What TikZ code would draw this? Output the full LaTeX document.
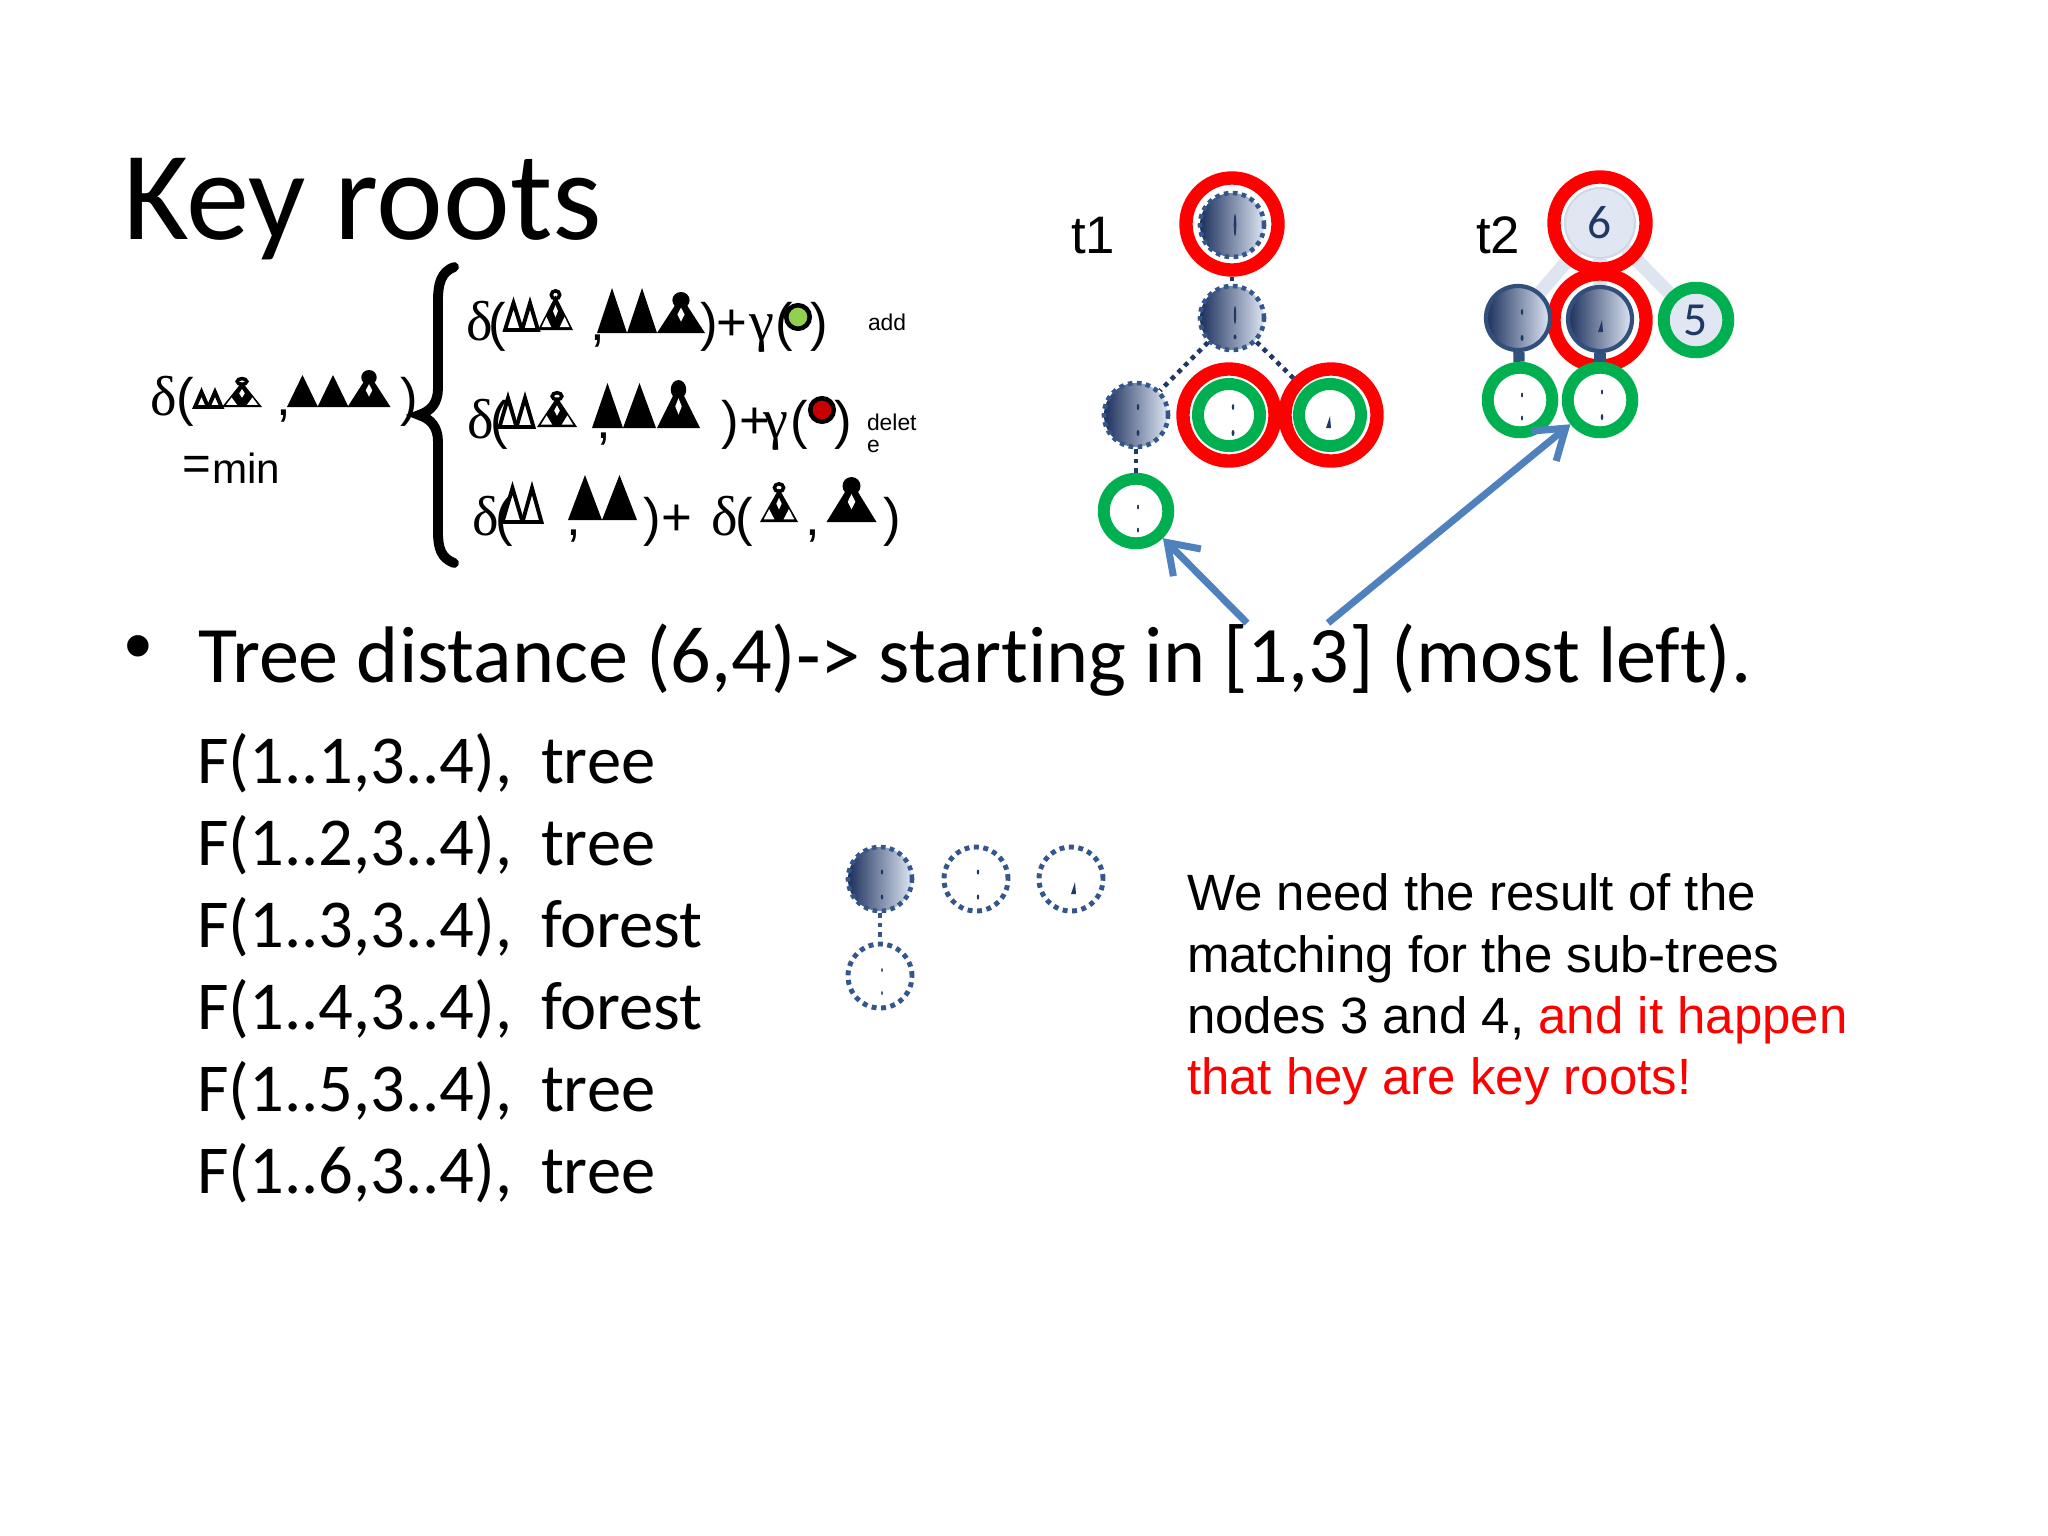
\documentclass[tikz,border=0pt]{standalone}
\usepackage{fontspec}
\setmainfont{Carlito}[Ligatures={TeX,NoCommon}]
\newfontfamily\arialf{Liberation Sans}
\newfontfamily\tnrf{Liberation Serif}
\usetikzlibrary{arrows.meta,backgrounds}
\newcommand{\kfs}[1]{\fontsize{#1}{#1}\selectfont}
\definecolor{kred}{RGB}{255,0,0}
\definecolor{kgreen}{RGB}{0,176,80}
\definecolor{knavy}{RGB}{31,56,100}
\definecolor{dotblue}{RGB}{52,86,138}
\definecolor{shdark}{RGB}{28,48,92}
\definecolor{shlight}{RGB}{222,230,244}
\definecolor{arrblue}{RGB}{79,129,189}
\definecolor{lightfill}{RGB}{225,231,242}
\definecolor{lightedgec}{RGB}{223,229,240}
\definecolor{dotgreen}{RGB}{146,208,80}
\definecolor{dotred}{RGB}{200,0,0}
\tikzset{
 txt/.style={inner sep=0pt, outer sep=0pt, anchor=base west},
 ft/.style={txt, font=\arialf\kfs{15}},
 gk/.style={txt, font=\tnrf\kfs{16}},
 redring/.style={circle, draw=kred, line width=3.8pt, minimum size=0.92cm, inner sep=0pt},
 gring/.style={circle, draw=kgreen, fill=white, line width=3.4pt, minimum size=0.62cm, inner sep=0pt},
 gnode/.style={circle, draw=kgreen, fill=white, line width=3.4pt, minimum size=0.645cm, inner sep=0pt},
 shnode/.style={circle, left color=shdark, right color=shlight, draw=dotblue, line width=1.3pt, dash pattern=on 1.3pt off 1.25pt, minimum size=0.64cm, inner sep=0pt},
 shsolid/.style={circle, left color=shdark, right color=shlight, draw={rgb,255:red,50;green,78;blue,122}, line width=1.2pt, minimum size=0.64cm, inner sep=0pt},
 dotnode/.style={circle, fill=white, draw=dotblue, line width=1.4pt, dash pattern=on 1.4pt off 1.3pt, minimum size=0.64cm, inner sep=0pt},
 lightcore/.style={circle, fill=lightfill, draw={rgb,255:red,208;green,216;blue,232}, line width=0.6pt, minimum size=0.70cm, inner sep=0pt, text=knavy, font=\kfs{13.5}},
 dotedge/.style={draw=knavy, line width=1.3pt, dash pattern=on 1.3pt off 1.4pt},
 lightedgest/.style={draw=lightedgec, line width=3.8pt},
 darkedge/.style={draw={rgb,255:red,52;green,80;blue,124}, line width=3.2pt},
 arr/.style={draw=arrblue, line width=2pt, -{Straight Barb[length=8pt, width=11pt]}},
 gdot/.style={circle, fill=dotgreen, draw=black, line width=1.3pt, minimum size=0.235cm, inner sep=0pt},
 rdot/.style={circle, fill=dotred, draw=black, line width=1.3pt, minimum size=0.235cm, inner sep=0pt},
 otri/.pic={\draw[line width=1.1pt, line join=miter] (-0.5,0) -- (0,-1) -- (0.5,0) -- cycle;},
 ftri/.pic={\fill (-0.5,0) -- (0,-1) -- (0.5,0) -- cycle;},
 otree/.pic={
   \fill (-0.5,0) -- (0,-0.86) -- (0.5,0) -- cycle;
   \fill[white] (-0.40,-0.07) -- (-0.26,-0.33) -- (-0.12,-0.07) -- cycle;
   \fill[white] (0.12,-0.07) -- (0.26,-0.33) -- (0.40,-0.07) -- cycle;
   \fill[white] (0,-0.62) -- (0.07,-0.47) -- (0,-0.32) -- (-0.07,-0.47) -- cycle;
   \draw[line width=1pt] (0,-0.88) ellipse [x radius=0.12, y radius=0.1];},
 ftree/.pic={
   \fill (-0.5,0) -- (0,-0.9) -- (0.5,0) -- cycle;
   \fill (0,-0.8) ellipse [x radius=0.18, y radius=0.2];
   \fill[white] (0,-0.62) -- (0.075,-0.45) -- (0,-0.28) -- (-0.075,-0.45) -- cycle;}
}
\begin{document}
\begin{tikzpicture}[x=0.01cm,y=-0.01cm]
\useasboundingbox (0,0) rectangle (2048,1536);
\begin{scope}[on background layer]
\fill[white] (0,0) rectangle (2048,1536);
\end{scope}

% title
\node[txt, font=\kfs{36}] (title) at (123,239) {Key roots};

% left expression
\node[gk] (Ld) at (150,415) {δ};
\node[ft] (Lo) at (176,415) {(};
\pic[xscale=13,yscale=15] at (201.5,407) {otri};
\pic[xscale=13,yscale=15] at (215,407) {otri};
\pic[xscale=40,yscale=29] at (242,407) {otree};
\node[ft] (Lc) at (276,415) {,};
\pic[xscale=31,yscale=32] at (302.5,407) {ftri};
\pic[xscale=31,yscale=32] at (333,407) {ftri};
\pic[xscale=43,yscale=37] at (369,407) {ftree};
\node[ft] (Lp) at (400,415) {)};
\node[txt, font=\arialf\kfs{14}] (Leq) at (182,480) {=};
\node[txt, font=\arialf\kfs{12}] (Lmin) at (212,483) {min};

% brace
\draw[line width=2.8pt, line cap=round] (454,267) .. controls (441,272) and (438,284) .. (438,300) -- (438,388) .. controls (438,403) and (431,411) .. (419,415) .. controls (431,419) and (438,427) .. (438,442) -- (438,532) .. controls (438,548) and (441,558) .. (454,563);

% row 1
\node[gk] (A1) at (466,340) {δ};
\node[ft] (A2) at (488,340) {(};
\pic[xscale=17,yscale=27] at (513.5,330) {otri};
\pic[xscale=16,yscale=27] at (530,330) {otri};
\pic[xscale=35,yscale=40] at (555.5,330) {otree};
\node[ft] (A3) at (590,340) {,};
\pic[xscale=30,yscale=45] at (612,333) {ftri};
\pic[xscale=30,yscale=45] at (642,333) {ftri};
\pic[xscale=48,yscale=41] at (681,333) {ftree};
\node[ft] (A4) at (700,340) {)};
\node[ft] (A5) at (716,340) {+};
\node[gk] (A6) at (749,340) {γ};
\node[ft] (A7) at (775,340) {(};
\node[gdot] (A8) at (798,317) {};
\node[ft] (A9) at (810,340) {)};
\node[txt, font=\arialf\kfs{6.5}] (A10) at (868,330) {add};

% row 2
\node[gk] (B1) at (467,438) {δ};
\node[ft] (B2) at (490,438) {(};
\pic[xscale=17,yscale=29] at (508,427) {otri};
\pic[xscale=17,yscale=29] at (525,427) {otri};
\pic[xscale=40,yscale=35] at (557,427) {otree};
\node[ft] (B3) at (596,438) {,};
\pic[xscale=31,yscale=45] at (607.5,428) {ftri};
\pic[xscale=33,yscale=45] at (639.5,428) {ftri};
\pic[xscale=43,yscale=48] at (678.5,428) {ftree};
\node[ft] (B4) at (721,438) {)};
\node[ft] (B5) at (739,438) {+};
\node[gk] (B6) at (763,438) {γ};
\node[ft] (B7) at (790,438) {(};
\node[rdot] (B8) at (822,410) {};
\node[ft] (B9) at (834,438) {)};
\node[txt, font=\arialf\kfs{6.5}] (B10) at (867,430) {delet};
\node[txt, font=\arialf\kfs{6.5}] (B11) at (867,452) {e};

% row 3
\node[gk] (C1) at (472,535) {δ};
\node[ft] (C2) at (495,535) {(};
\pic[xscale=20,yscale=34] at (512.5,522) {otri};
\pic[xscale=19,yscale=34] at (532,522) {otri};
\node[ft] (C3) at (566,535) {,};
\pic[xscale=34,yscale=45] at (585,520) {ftri};
\pic[xscale=35,yscale=45] at (619.5,520) {ftri};
\node[ft] (C4) at (643,535) {)};
\node[ft] (C5) at (661,535) {+};
\node[gk] (C6) at (711,535) {δ};
\node[ft] (C7) at (735,535) {(};
\pic[xscale=38,yscale=39] at (779,522) {otree};
\node[ft] (C8) at (805,535) {,};
\pic[xscale=50,yscale=45] at (851.5,522) {ftree};
\node[ft] (C9) at (883,535) {)};

% t1 tree
\node[txt, font=\arialf\kfs{15}] (t1lab) at (1071,253) {t1};
\node[redring] (t1r) at (1232,224) {};
\node[shnode] (t1rc) at (1232,225) {};
\node[shnode] (t1n2) at (1232,318) {};
\node[shnode] (t1l) at (1136,415) {};
\node[redring] (t1n3r) at (1229,415) {};
\node[gring] (t1n3) at (1229,415) {};
\node[redring] (t1n4r) at (1331,415) {};
\node[gring] (t1n4) at (1330,415) {};
\node[gnode] (t1b) at (1136,511) {};
\draw[dotedge] (t1r) -- (t1n2);
\draw[dotedge] (t1n2) -- (t1l);
\draw[dotedge] (t1n2) -- (t1n4r);
\draw[dotedge] (t1l) -- (t1b);
\fill[knavy] (1235,225) ellipse [x radius=1.3, y radius=11];
\fill[knavy] (1235,315) ellipse [x radius=1.2, y radius=9];
\fill[knavy] (1235,337) ellipse [x radius=1.5, y radius=2.5];
\fill[knavy] (1138,407) ellipse [x radius=1.3, y radius=3];
\fill[knavy] (1138,433) ellipse [x radius=1.5, y radius=3];
\fill[knavy] (1233,407) ellipse [x radius=1.2, y radius=3];
\fill[knavy] (1233,433) ellipse [x radius=1.5, y radius=3];
\fill[knavy] (1326,428) -- (1330,416) -- (1331,428) -- cycle;
\fill[knavy] (1138,507) ellipse [x radius=1, y radius=2.5];
\fill[knavy] (1138,530) ellipse [x radius=1, y radius=2.5];

% t2 tree
\node[txt, font=\arialf\kfs{15}] (t2lab) at (1476,253) {t2};
\node[redring] (t2r) at (1600,223) {};
\node[lightcore] (t2rc) at (1600,223) {6};
\node[redring] (t2mr) at (1600,320) {};
\node[shsolid] (t2l) at (1518,318) {};
\node[shsolid] (t2m) at (1600,319) {};
\node[gnode, fill=lightfill, text=knavy, font=\kfs{13.5}] (t2f) at (1696,320) {5};
\node[gnode] (t2bl) at (1520,400) {};
\node[gnode] (t2bm) at (1600,400) {};
\draw[darkedge] (t2l) -- (t2bl);
\draw[darkedge] (t2m) -- (t2bm);
\begin{scope}[on background layer]
\draw[lightedgest] (t2rc) -- (t2l);
\draw[lightedgest] (t2rc) -- (t2f);
\draw[lightedgest] (t2rc) -- (t2m);
\end{scope}
\fill[knavy] (1522,312) ellipse [x radius=1.2, y radius=3];
\fill[knavy] (1522,338) ellipse [x radius=1.5, y radius=3];
\fill[knavy] (1598,332) -- (1602,320) -- (1603,332) -- cycle;
\fill[knavy] (1522,395) ellipse [x radius=1, y radius=2.5];
\fill[knavy] (1522,418) ellipse [x radius=1, y radius=2.5];
\fill[knavy] (1602,392) ellipse [x radius=1, y radius=2.5];
\fill[knavy] (1602,417) ellipse [x radius=1.3, y radius=3];

% arrows
\coordinate (a1s) at (1247,623);
\coordinate (a2s) at (1328,623);
\draw[arr] (a1s) -- (t1b);
\draw[arr] (a2s) -- (t2bm);

% bullet line
\node[txt, font=\arialf\kfs{22.5}] (bul) at (124,672) {•};
\node[txt, font=\kfs{22.8}] (btxt) at (198,682) {Tree distance (6,4)-> starting in [1,3] (most left).};

% F lines
\foreach \i/\a/\b in {0/1/tree,1/2/tree,2/3/forest,3/4/forest,4/5/tree,5/6/tree}{
  \node[txt, font=\kfs{19.5}] (f\i) at (197,{783+82*\i}) {F(1..\a,3..4),};
  \node[txt, font=\kfs{19.5}] (g\i) at (541,{783+82*\i}) {\b};
}

% middle small nodes
\node[shnode] (m1) at (880,879) {};
\node[dotnode] (m2) at (976,879) {};
\node[dotnode] (m3) at (1071,879) {};
\node[dotnode] (m4) at (880,976) {};
\draw[dotedge, draw=dotblue, line width=1.4pt] (m1) -- (m4);
\fill[knavy] (882,872) ellipse [x radius=1.2, y radius=2.5];
\fill[knavy] (882,897) ellipse [x radius=1.2, y radius=2.5];
\fill[knavy] (978,872) ellipse [x radius=1.2, y radius=2.5];
\fill[knavy] (978,897) ellipse [x radius=1.2, y radius=2.5];
\fill[knavy] (1071,894) -- (1075,882) -- (1076,894) -- cycle;
\fill[knavy] (882,970) ellipse [x radius=0.8, y radius=2];
\fill[knavy] (882,993) ellipse [x radius=0.8, y radius=2];

% right text
\node[txt, font=\arialf\kfs{14.5}] (r1) at (1187,910) {We need the result of the};
\node[txt, font=\arialf\kfs{14.5}] (r2) at (1187,972) {matching for the sub-trees};
\node[txt, font=\arialf\kfs{14.5}] (r3) at (1187,1033) {nodes 3 and 4, \textcolor{kred}{and it happen}};
\node[txt, font=\arialf\kfs{14.5}, text=kred] (r4) at (1187,1094) {that hey are key roots!};
\end{tikzpicture}
\end{document}
